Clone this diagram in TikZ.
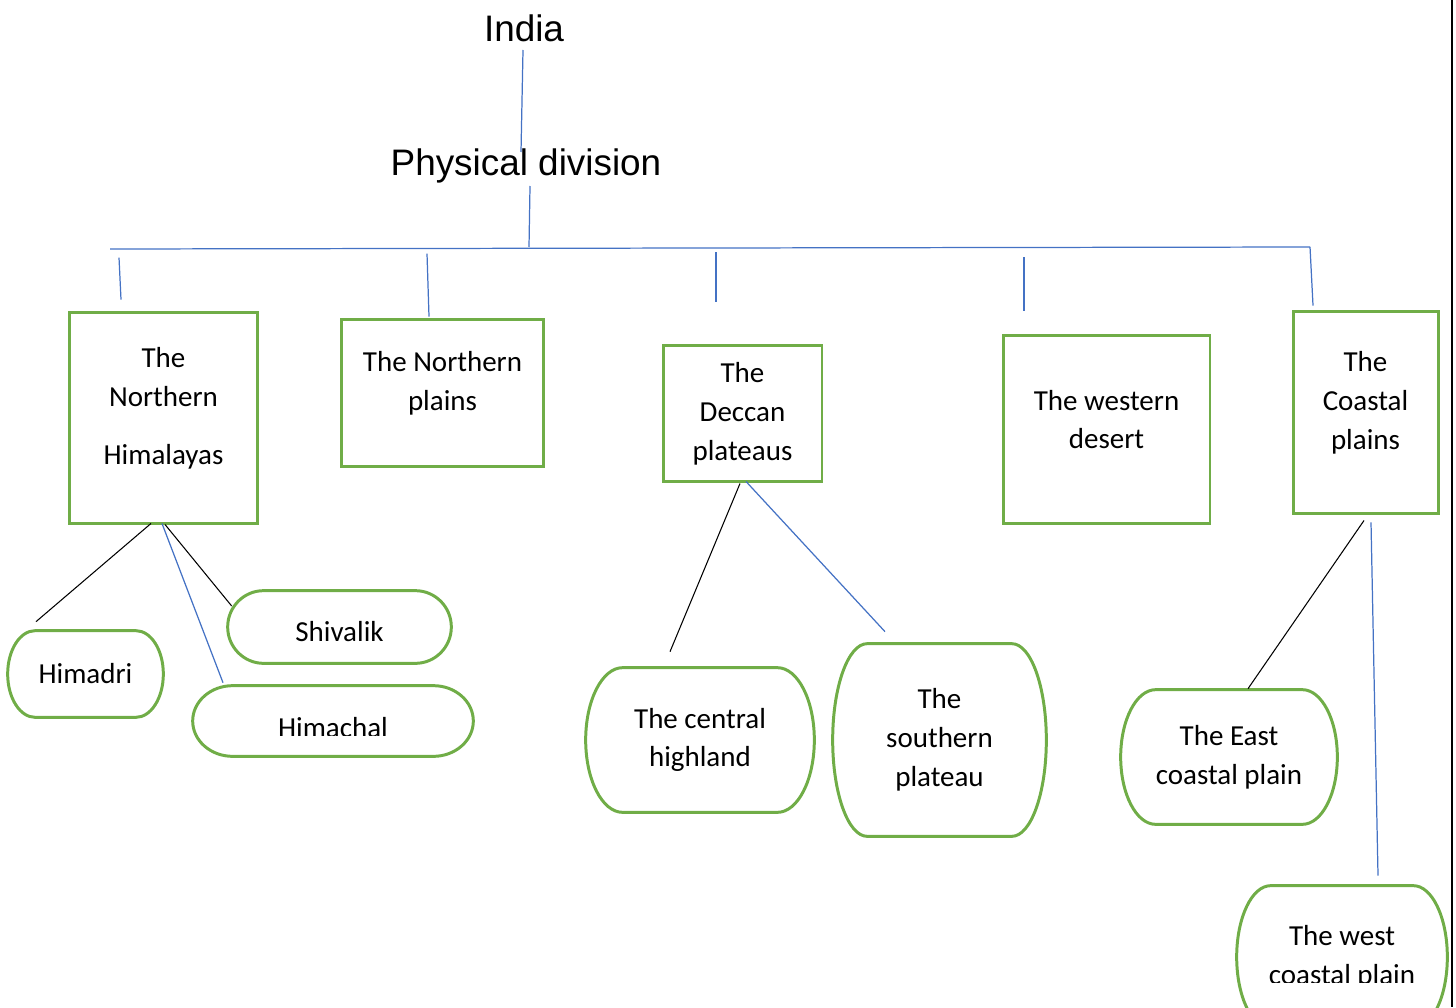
\documentclass[tikz,border=0pt]{standalone}
\usepackage{fontspec}
\setmainfont{Carlito}
\newfontfamily\arialfont{Liberation Sans}
\usetikzlibrary{calc}
\definecolor{box_col}{RGB}{112, 173, 71}
\definecolor{link_col}{RGB}{68, 114, 196}
% outline of a rounded end box round a named node
\newcommand{\termoutline}[2]{%
  \draw[termline] let \p1=(#1.north west), \p2=(#1.south east) in
    (\x1+#2,\y1) -- (\x2-#2,\y1)
    arc[start angle=90, end angle=-90, x radius=#2, y radius={0.5*(\y1-\y2)}]
    -- (\x1+#2,\y2)
    arc[start angle=270, end angle=90, x radius=#2, y radius={0.5*(\y1-\y2)}] -- cycle;}

\begin{document}
\begin{tikzpicture}[
    x=0.02cm, y=0.02cm,
    every node/.style={font=\fontsize{16.5}{22.1}\selectfont},
    title/.style={font=\arialfont\fontsize{21}{24}\selectfont, inner sep=0pt},
    divbox/.style={draw=box_col, line width=1.7pt, inner sep=0pt},
    boxtxt/.style={align=center, yshift=0.2cm},
    term/.style={align=center, inner sep=0pt},
    termline/.style={draw=box_col, line width=1.7pt},
    bl/.style={draw=link_col, line width=0.7pt},
    kl/.style={draw=black, line width=0.6pt},
]
  \useasboundingbox (0,0) rectangle (1456,-1007);

  \node[title] (india) at (524,-28)  {India};
  \node[title] (phys)  at (526,-166) {Physical division};
  \coordinate (barL) at (110,-249);
  \coordinate (barR) at (1310,-247);

  % main divisions
  \node[divbox, minimum width=3.78cm, minimum height=4.24cm,
        label={[boxtxt, name=nh-t]center:{The\\Northern\\[11pt]Himalayas}}] (nh) at (163.5,-418) {};
  \node[divbox, minimum width=4.06cm, minimum height=2.96cm,
        label={[boxtxt, name=np-t]center:{The Northern\\plains}}] (np) at (442.5,-393) {};
  \node[divbox, minimum width=3.18cm, minimum height=2.74cm,
        label={[boxtxt, yshift=-0.2cm, name=dp-t]center:{The\\Deccan\\plateaus}}] (dp) at (742.5,-413.5) {};
  \node[divbox, minimum width=4.14cm, minimum height=3.78cm,
        label={[boxtxt, name=wd-t]center:{The western\\desert}}] (wd) at (1106.5,-429.5) {};
  \node[divbox, minimum width=2.90cm, minimum height=4.06cm,
        label={[boxtxt, name=cp-t]center:{The\\Coastal\\plains}}] (cp) at (1365.5,-412.5) {};

  % sub divisions
  \node[term, minimum width=3.10cm, minimum height=1.72cm] (himadri) at (85.5,-674) {Himadri};
  \node[term, minimum width=4.46cm, minimum height=1.44cm] (shivalik) at (339.5,-627) {\raisebox{-0.1cm}[\height][\depth]{Shivalik}};
  \begin{scope}
    \clip (190,-680) rectangle (480,-735);
    \node[term, minimum width=5.60cm, minimum height=1.40cm] (himachal) at (333,-721) {\raisebox{-0.14cm}[\height][\depth]{Himachal}};
  \end{scope}
  \node[term, minimum width=4.56cm, minimum height=2.88cm] (central) at (700,-740) {The central\\highland};
  \node[term, minimum width=4.26cm, minimum height=3.84cm] (southern) at (939.5,-740) {The\\southern\\plateau};
  \node[term, minimum width=4.32cm, minimum height=2.68cm] (eastcp) at (1229,-757) {The East\\coastal plain};
  \begin{scope}
    \clip (1230,-880) rectangle (1456,-982);
    \node[term, minimum width=4.20cm, minimum height=2.84cm] (westcp) at (1342,-957) {The west\\coastal plain};
  \end{scope}

  \termoutline{himadri}{0.55cm}
  \termoutline{shivalik}{0.72cm}
  \termoutline{himachal}{0.8cm}
  \termoutline{central}{0.74cm}
  \termoutline{southern}{0.69cm}
  \termoutline{eastcp}{0.70cm}
  \termoutline{westcp}{0.68cm}

  % links
  \draw[bl] ([shift={(-1,-22)}]india.center) -- ([shift={(-5,14)}]phys.center);
  \draw[bl] ([shift={(4,-20)}]phys.center) -- ([shift={(3,-81)}]phys.center);
  \draw[bl] (barL) -- (barR);
  \draw[bl] (barR) -- ([shift={(-52.5,4)}]cp.north);
  \draw[bl] ([shift={(-42.5,11)}]nh.north) -- ++(-2,42);
  \draw[bl] ([shift={(-13.5,1)}]np.north) -- ++(-2,63);
  \draw[bl] ([shift={(-26.5,42)}]dp.north) -- ++(0,50);
  \draw[bl] ([shift={(-82.5,23)}]wd.north) -- ++(0,54);

  \draw[kl] ([shift={(-12.5,2)}]nh.south) -- ([shift={(-49.5,9)}]himadri.north);
  \draw[kl] ([shift={(1.5,1)}]nh.south) -- ([shift={(4,21)}]shivalik.west);
  \draw[bl] ([shift={(-1.5,2)}]nh.south) -- ([shift={(-110,3)}]himachal.north);
  \draw[kl] ([shift={(-2.5,0)}]dp.south) -- ([shift={(-30,16)}]central.north);
  \draw[bl] ([shift={(3.5,2)}]dp.south) -- ([shift={(-54.5,12)}]southern.north);
  \draw[kl] ([shift={(-1.5,-5)}]cp.south) -- ([shift={(19,1)}]eastcp.north);
  \draw[bl] ([shift={(5.5,-7)}]cp.south) -- ([shift={(36,10)}]westcp.north);

  % page edge
  \draw[black, line width=0.04cm] (1452,0) -- (1452,-1007);
\end{tikzpicture}
\end{document}
